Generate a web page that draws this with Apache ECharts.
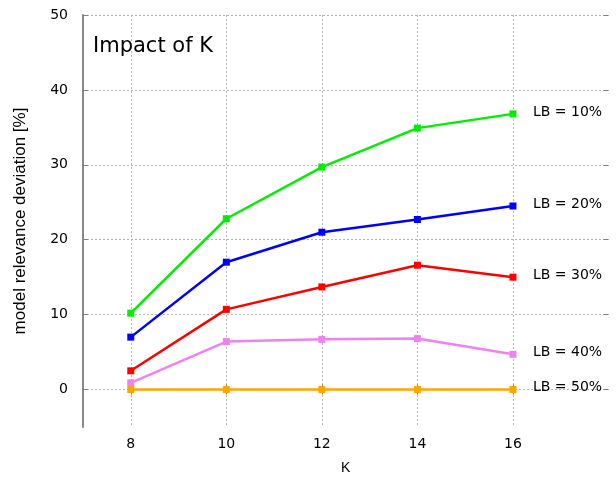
<!DOCTYPE html>
<html>
<head>
<meta charset="utf-8">
<style>
  html, body { margin: 0; padding: 0; background: #fff; }
  #chart { width: 616px; height: 480px; }
</style>
<script src="https://cdn.jsdelivr.net/npm/echarts@6/dist/echarts.min.js"></script>
</head>
<body>
<div id="chart"></div>
<script>
// K values on the x axis
const kValues = [8, 10, 12, 14, 16];
const kTicks = [8, 10, 12, 14, 16];
const yTicks = [0, 10, 20, 30, 40, 50];

// model relevance deviation [%] per lower bound
const lb10 = [10.2, 22.8, 29.7, 34.9, 36.8];
const lb20 = [7.0, 17.0, 21.0, 22.7, 24.5];
const lb30 = [2.5, 10.7, 13.7, 16.6, 15.0];
const lb40 = [0.9, 6.4, 6.7, 6.8, 4.7];
const lb50 = [0, 0, 0, 0, 0];

const seriesNames = ['LB = 10%', 'LB = 20%', 'LB = 30%', 'LB = 40%', 'LB = 50%'];
const seriesValues = [lb10, lb20, lb30, lb40, lb50];
const seriesColors = ['#00ee00', '#0000ff', '#ff0000', '#ee82ee', '#ffa500'];

const tickFont = 'DejaVu Sans';
const gridLine = { show: true, lineStyle: { color: '#b4b4b4', width: 1, type: [2, 2] } };
const innerTick = { show: true, inside: true, length: 5, lineStyle: { color: '#808080', width: 1 } };

const chart = echarts.init(document.getElementById('chart'), null, { renderer: 'canvas' });

chart.setOption({
  animation: false,
  backgroundColor: '#fff',
  title: {
    text: 'Impact of K',
    left: 93,
    top: 36,
    padding: 0,
    textStyle: { fontFamily: tickFont, fontSize: 21, fontWeight: 'normal', color: '#000' }
  },
  grid: { left: 83, right: 7.5, top: 15, bottom: 49, containLabel: false },
  xAxis: [
    {
      type: 'value', position: 'bottom', min: 7, max: 18,
      name: 'K', nameLocation: 'middle', nameGap: 34,
      nameTextStyle: { fontFamily: 'Liberation Sans', fontSize: 14, color: '#000' },
      axisLine: { show: false },
      axisTick: Object.assign({ customValues: kTicks }, innerTick),
      axisLabel: { customValues: kTicks, fontFamily: tickFont, fontSize: 14, color: '#000', margin: 10 },
      splitLine: gridLine
    },
    {
      type: 'value', position: 'top', min: 7, max: 18,
      axisLine: { show: false },
      axisTick: Object.assign({ customValues: kTicks }, innerTick),
      axisLabel: { show: false },
      splitLine: { show: false }
    }
  ],
  yAxis: [
    {
      type: 'value', position: 'left', min: -5, max: 50,
      name: 'model relevance deviation [%]', nameLocation: 'middle', nameGap: 54,
      nameTextStyle: { fontFamily: 'Liberation Sans', fontSize: 17, color: '#000' },
      axisLine: { show: true, lineStyle: { color: '#888', width: 2 } },
      axisTick: Object.assign({ customValues: yTicks }, innerTick),
      axisLabel: { customValues: yTicks, fontFamily: tickFont, fontSize: 14, color: '#000', margin: 15 },
      splitLine: gridLine
    },
    {
      type: 'value', position: 'right', min: -5, max: 50,
      axisLine: { show: false },
      axisTick: Object.assign({ customValues: yTicks }, innerTick),
      axisLabel: { show: false },
      splitLine: { show: false }
    }
  ],
  series: seriesNames.map((name, i) => ({
    name: name,
    type: 'line',
    xAxisIndex: 0,
    yAxisIndex: 0,
    data: kValues.map((k, j) => [k, seriesValues[i][j]]),
    symbol: 'rect',
    symbolSize: 7,
    color: seriesColors[i],
    lineStyle: { width: 2.5, color: seriesColors[i] },
    itemStyle: { color: seriesColors[i] },
    endLabel: {
      show: true,
      formatter: name,
      distance: 20,
      offset: [0, -2],
      fontFamily: tickFont,
      fontSize: 14,
      color: '#000'
    },
    z: 2 + i
  }))
});
</script>
</body>
</html>
